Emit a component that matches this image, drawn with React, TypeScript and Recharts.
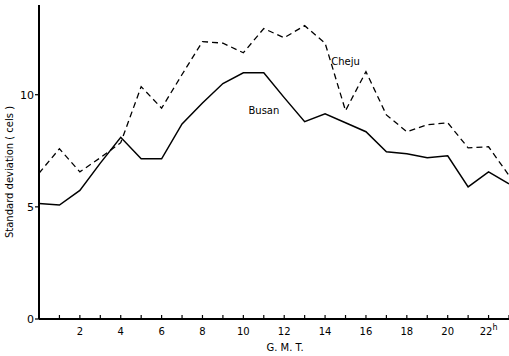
import { LineChart, Line, XAxis, YAxis, ReferenceDot } from 'recharts';

const hours = [0, 1, 2, 3, 4, 5, 6, 7, 8, 9, 10, 11, 12, 13, 14, 15, 16, 17, 18, 19, 20, 21, 22, 23];
const busan = [5.15, 5.08, 5.73, 6.95, 8.1, 7.14, 7.14, 8.7, 9.63, 10.5, 10.98, 10.98, 9.87, 8.8, 9.15, 8.75, 8.35, 7.46, 7.37, 7.19, 7.28, 5.89, 6.56, 6.03];
const cheju = [6.5, 7.59, 6.56, 7.19, 7.86, 10.36, 9.4, 10.9, 12.37, 12.3, 11.87, 12.95, 12.54, 13.08, 12.3, 9.29, 11.03, 9.1, 8.35, 8.66, 8.75, 7.63, 7.68, 6.4];
const yTicks = [0, 5, 10];

const data = hours.map((h, i) => ({ h, busan: busan[i], cheju: cheju[i] }));

const FONT = '"DejaVu Sans", sans-serif';

function HourTick(props: any) {
  const { x, y, payload } = props;
  const h = payload.value as number;
  const axisY = y - 4;
  return (
    <g>
      <line x1={x} x2={x} y1={axisY} y2={axisY - 4} stroke="#000" strokeWidth={1.2} />
      {h > 0 && h % 2 === 0 && (
        <text x={x} y={axisY + 16} textAnchor="middle" fontSize={10} fontFamily={FONT} fill="#000">
          {h}
          {h === 22 && <tspan fontSize={8} dy={-5}>h</tspan>}
        </text>
      )}
    </g>
  );
}

export default function App() {
  return (
    <div style={{ position: 'absolute', left: 0, top: 0, background: '#fff' }}>
      <LineChart width={509} height={356} data={data} margin={{ top: 5, right: 0, left: 0, bottom: 0 }}>
        <XAxis
          dataKey="h"
          type="number"
          domain={[0, 23]}
          ticks={hours}
          interval={0}
          tickLine={false}
          tickSize={0}
          tickMargin={4}
          height={37}
          axisLine={{ stroke: '#000', strokeWidth: 2 }}
          tick={<HourTick />}
          label={{ value: 'G. M. T.', position: 'insideBottom', offset: 5, dx: 11, fontSize: 10, fontFamily: FONT, fill: '#000' }}
        />
        <YAxis
          type="number"
          domain={[0, 14]}
          ticks={yTicks}
          interval={0}
          width={39}
          tickSize={4}
          tickMargin={1}
          axisLine={{ stroke: '#000', strokeWidth: 2 }}
          tickLine={{ stroke: '#000', strokeWidth: 1.2 }}
          tick={{ fontSize: 11, fontFamily: FONT, fill: '#000' }}
          label={{ value: 'Standard  deviation  ( cels )', angle: -90, position: 'insideLeft', offset: 9, dy: 10, fontSize: 10, fontFamily: FONT, fill: '#000', style: { textAnchor: 'middle' } }}
        />
        <Line dataKey="cheju" stroke="#000" strokeWidth={1.3} strokeDasharray="6 4" dot={false} isAnimationActive={false} />
        <Line dataKey="busan" stroke="#000" strokeWidth={1.5} dot={false} isAnimationActive={false} />
        <ReferenceDot x={14.3} y={11.5} r={0} ifOverflow="visible" label={{ value: 'Cheju', position: 'right', offset: 0, fontSize: 10, fontFamily: FONT, fill: '#000' }} />
        <ReferenceDot x={10.25} y={9.32} r={0} ifOverflow="visible" label={{ value: 'Busan', position: 'right', offset: 0, fontSize: 10, fontFamily: FONT, fill: '#000' }} />
      </LineChart>
    </div>
  );
}
